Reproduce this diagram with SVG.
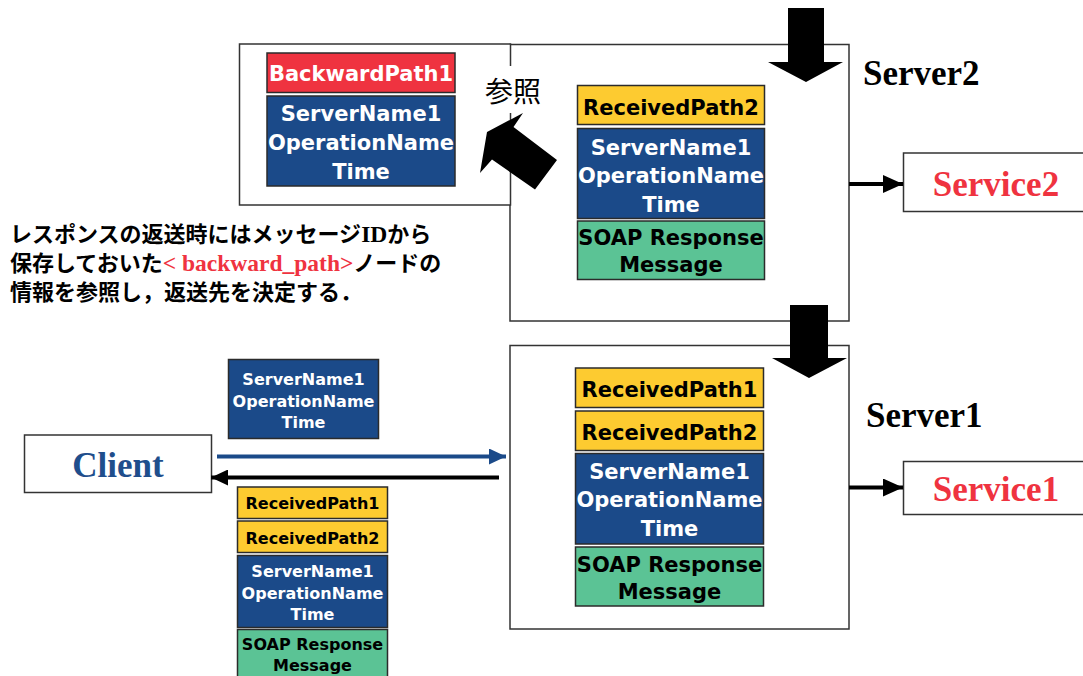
<svg xmlns="http://www.w3.org/2000/svg" width="1083" height="676" viewBox="0 0 1083 676">
  <style>
    .frame { fill: #ffffff; stroke: #333333; stroke-width: 1.5; }
    .path-y { fill: #fdcb30; stroke: #2b2b2b; stroke-width: 1.5; }
    .info-b { fill: #1b4a89; stroke: #2b2b2b; stroke-width: 1.5; }
    .soap-g { fill: #5bc395; stroke: #2b2b2b; stroke-width: 1.5; }
    .back-r { fill: #ef3340; stroke: #2b2b2b; stroke-width: 1.5; }
    .blk { font-family: "DejaVu Sans", Verdana, sans-serif; font-weight: bold; text-anchor: middle; }
    .lg { font-size: 21px; }
    .sm { font-size: 16px; }
    .wt { fill: #ffffff; }
    .bk { fill: #000000; }
    .title { font-family: "Liberation Serif", "Times New Roman", serif; font-weight: bold; font-size: 35px; }
    .note { font-family: "Noto Sans CJK JP", "Noto Sans", sans-serif; font-weight: bold; font-size: 22px; fill: #000000; }
    .note-lat { font-family: "Liberation Serif", "Noto Sans CJK JP", serif; font-weight: bold; font-size: 23.5px; }
    .link { fill: none; stroke-width: 4; }
    .block { fill: #000000; }
  </style>
  <defs>
    <marker id="head-blue" viewBox="0 0 17 16" refX="17" refY="8" markerWidth="17" markerHeight="16" markerUnits="userSpaceOnUse" orient="auto">
      <path d="M0,0 L17,8 L0,16 Z" fill="#1b4a89"/>
    </marker>
    <marker id="head-black" viewBox="0 0 17 16" refX="17" refY="8" markerWidth="17" markerHeight="16" markerUnits="userSpaceOnUse" orient="auto">
      <path d="M0,0 L17,8 L0,16 Z" fill="#000000"/>
    </marker>
    <marker id="head-svc" viewBox="0 0 20 18" refX="20" refY="9" markerWidth="20" markerHeight="18" markerUnits="userSpaceOnUse" orient="auto">
      <path d="M0,0 L20,9 L0,18 Z" fill="#000000"/>
    </marker>
  </defs>

  <rect width="1083" height="676" fill="#ffffff"/>

  <!-- Server2 frame and its message stack -->
  <g id="server2">
    <rect class="frame" x="510" y="44.5" width="339" height="276.5"/>
    <text class="title" x="863" y="84.5" fill="#000000">Server2</text>
    <rect class="path-y" x="577.5" y="85.5" width="187" height="39"/>
    <text class="blk lg bk" x="671" y="115">ReceivedPath2</text>
    <rect class="info-b" x="577.5" y="128.5" width="187" height="90"/>
    <text class="blk lg wt" x="671" y="155">ServerName1</text>
    <text class="blk lg wt" x="671" y="183">OperationName</text>
    <text class="blk lg wt" x="671" y="211.5">Time</text>
    <rect class="soap-g" x="577.5" y="221" width="187" height="58.5"/>
    <text class="blk lg bk" x="671" y="245">SOAP Response</text>
    <text class="blk lg bk" x="671" y="272">Message</text>
  </g>

  <!-- Stored backward_path node -->
  <g id="backward-path">
    <rect class="frame" x="239.5" y="44" width="271" height="161"/>
    <rect class="back-r" x="267" y="53" width="188" height="39.5"/>
    <text class="blk lg wt" x="361" y="81">BackwardPath1</text>
    <rect class="info-b" x="267" y="96" width="188" height="90"/>
    <text class="blk lg wt" x="361" y="121">ServerName1</text>
    <text class="blk lg wt" x="361" y="150">OperationName</text>
    <text class="blk lg wt" x="361" y="179">Time</text>
  </g>

  <!-- Reference label -->
  <g id="ref-label">
    <rect x="483" y="66" width="62" height="47" fill="#ffffff"/>
    <text x="513" y="102" text-anchor="middle" font-family="Noto Sans CJK JP, sans-serif" font-size="28" fill="#000000">参照</text>
  </g>

  <!-- Server2 service -->
  <g id="service2">
    <rect class="frame" x="903.5" y="153" width="185" height="58.5"/>
    <text class="title" x="996" y="196" text-anchor="middle" fill="#ef3340">Service2</text>
  </g>

  <!-- Server1 frame and its message stack -->
  <g id="server1">
    <rect class="frame" x="510" y="345.5" width="339" height="283.5"/>
    <text class="title" x="866" y="426.5" fill="#000000">Server1</text>
    <rect class="path-y" x="575.5" y="368" width="188" height="39.5"/>
    <text class="blk lg bk" x="669.5" y="397">ReceivedPath1</text>
    <rect class="path-y" x="575.5" y="411" width="188" height="39.5"/>
    <text class="blk lg bk" x="669.5" y="439.5">ReceivedPath2</text>
    <rect class="info-b" x="575.5" y="453.5" width="188" height="90.5"/>
    <text class="blk lg wt" x="669.5" y="478.5">ServerName1</text>
    <text class="blk lg wt" x="669.5" y="507">OperationName</text>
    <text class="blk lg wt" x="669.5" y="536">Time</text>
    <rect class="soap-g" x="575.5" y="547" width="188" height="59"/>
    <text class="blk lg bk" x="669.5" y="572">SOAP Response</text>
    <text class="blk lg bk" x="669.5" y="598.5">Message</text>
  </g>

  <!-- Server1 service -->
  <g id="service1">
    <rect class="frame" x="903.5" y="461.5" width="185" height="53"/>
    <text class="title" x="996" y="501" text-anchor="middle" fill="#ef3340">Service1</text>
  </g>

  <!-- Client -->
  <g id="client">
    <rect class="frame" x="24.5" y="435" width="187" height="57.5"/>
    <text class="title" x="118" y="477" text-anchor="middle" fill="#1f4e8c">Client</text>
  </g>

  <!-- Request header sent by the client -->
  <g id="request-msg">
    <rect class="info-b" x="228.5" y="359.5" width="150" height="79"/>
    <text class="blk sm wt" x="303.5" y="384.5">ServerName1</text>
    <text class="blk sm wt" x="303.5" y="406.5">OperationName</text>
    <text class="blk sm wt" x="303.5" y="427.5">Time</text>
  </g>

  <!-- Response returned to the client -->
  <g id="response-msg">
    <rect class="path-y" x="237.5" y="487" width="150" height="31.5"/>
    <text class="blk sm bk" x="312.5" y="509">ReceivedPath1</text>
    <rect class="path-y" x="237.5" y="521" width="150" height="31.5"/>
    <text class="blk sm bk" x="312.5" y="543.5">ReceivedPath2</text>
    <rect class="info-b" x="237.5" y="555.5" width="150" height="72"/>
    <text class="blk sm wt" x="312.5" y="577">ServerName1</text>
    <text class="blk sm wt" x="312.5" y="598.5">OperationName</text>
    <text class="blk sm wt" x="312.5" y="619.5">Time</text>
    <rect class="soap-g" x="237.5" y="629.5" width="150" height="60"/>
    <text class="blk sm bk" x="312.5" y="650">SOAP Response</text>
    <text class="blk sm bk" x="312.5" y="671">Message</text>
  </g>

  <!-- Explanation note -->
  <g id="note">
    <text class="note" x="10" y="241.5">レスポンスの返送時にはメッセージ<tspan class="note-lat">ID</tspan>から</text>
    <text class="note" x="10" y="270.5">保存しておいた<tspan class="note-lat" fill="#ef3340">&lt; backward_path&gt;</tspan>ノードの</text>
    <text class="note" x="10" y="300">情報を参照し，返送先を決定する．</text>
  </g>

  <!-- Connectors -->
  <g id="connectors">
    <line class="link" x1="217" y1="456.5" x2="506" y2="456.5" stroke="#1b4a89" marker-end="url(#head-blue)"/>
    <line class="link" x1="499" y1="477.5" x2="211" y2="477.5" stroke="#000000" marker-end="url(#head-black)"/>
    <line class="link" x1="849" y1="184" x2="903" y2="184" stroke="#000000" marker-end="url(#head-svc)"/>
    <line class="link" x1="849" y1="487.5" x2="903" y2="487.5" stroke="#000000" marker-end="url(#head-svc)"/>
    <!-- block arrows: incoming request, hand-off to Server1, lookup of stored path -->
    <polygon class="block" points="788,8 824,8 824,62 843,62 806,82 768,62 788,62"/>
    <polygon class="block" points="790,305 828,305 828,358 847,358 809,378 772,358 790,358"/>
    <polygon class="block" points="487,132 523,113 513.5,127 557,160 535,189.5 492,159.5 480,173"/>
  </g>
</svg>
